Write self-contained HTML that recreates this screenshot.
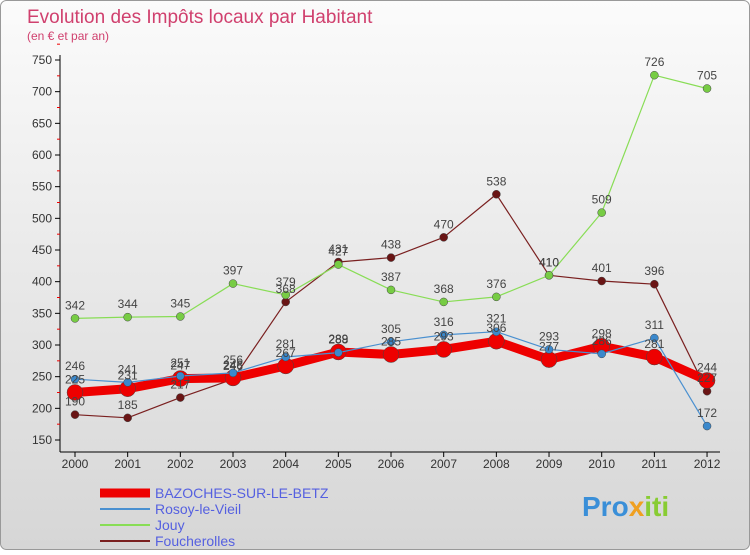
<!DOCTYPE html>
<html><head><meta charset="utf-8"><style>
body{margin:0;width:750px;height:550px;overflow:hidden;font-family:"Liberation Sans",sans-serif}
</style></head><body>
<svg width="750" height="550">
<defs><linearGradient id="bg" x1="0" y1="0" x2="0" y2="1"><stop offset="0" stop-color="#fbfbfb"/><stop offset="1" stop-color="#d6d6d6"/></linearGradient></defs>
<rect x="0.5" y="0.5" width="749" height="549" rx="6" fill="url(#bg)" stroke="#999"/>
<text x="27" y="23" font-size="19" fill="#d0406e">Evolution des Impôts locaux par Habitant</text>
<text x="27" y="40" font-size="12" fill="#d0406e">(en € et par an)</text>
<g id="axes"></g><g id="series"></g><g id="labels"></g>
<g font-size="14" fill="#5560e0">
<line x1="100" y1="493" x2="150" y2="493" stroke="#e00" stroke-width="9"/>
<text x="155" y="498">BAZOCHES-SUR-LE-BETZ</text>
<line x1="100" y1="509" x2="150" y2="509" stroke="#4a90d0" stroke-width="2"/>
<text x="155" y="514">Rosoy-le-Vieil</text>
<line x1="100" y1="525" x2="150" y2="525" stroke="#88dd55" stroke-width="2"/>
<text x="155" y="530">Jouy</text>
<line x1="100" y1="541" x2="150" y2="541" stroke="#7a2020" stroke-width="2"/>
<text x="155" y="546">Foucherolles</text>
</g>
<text x="582" y="516" font-size="28" font-weight="bold" fill="#3a8fd8">Pro<tspan fill="#f0a020">x</tspan><tspan fill="#88cc33">iti</tspan></text>
</svg>
<script>
const years=["2000","2001","2002","2003","2004","2005","2006","2007","2008","2009","2010","2011","2012"];
const yTicks=[150,200,250,300,350,400,450,500,550,600,650,700,750];
const bazoches=[225,231,247,248,267,289,285,293,306,277,298,281,244];
const rosoy=[246,241,251,256,281,288,305,316,321,293,286,311,172];
const jouy=[342,344,345,397,379,427,387,368,376,410,509,726,705];
const foucherolles=[190,185,217,246,368,431,438,470,538,410,401,396,227];
const NS="http://www.w3.org/2000/svg";
const X=i=>75+i*52.67, Y=v=>440-(v-150)*380/600;
function mk(t,a,p){const e=document.createElementNS(NS,t);for(const k in a)e.setAttribute(k,a[k]);p.appendChild(e);return e;}
const ax=document.getElementById('axes');
let l=mk('line',{x1:60,y1:55,x2:60,y2:452,stroke:'#000'},ax);


l=mk('line',{x1:60,y1:452,x2:720,y2:452,stroke:'#000'},ax);


yTicks.forEach(v=>{mk('line',{x1:55,y1:Y(v),x2:60,y2:Y(v),stroke:'#000'},ax);
mk('line',{x1:57,y1:Y(v+25),x2:60,y2:Y(v+25),stroke:'#e00'},ax);
const t=mk('text',{x:52,y:Y(v)+4,'font-size':12,fill:'#333','text-anchor':'end'},ax);t.textContent=v;

});
years.forEach((y,i)=>{mk('line',{x1:X(i),y1:452,x2:X(i),y2:457,stroke:'#000'},ax);
const t=mk('text',{x:X(i),y:468,'font-size':12,fill:'#333','text-anchor':'middle'},ax);t.textContent=y;

});
const se=document.getElementById('series'),lb=document.getElementById('labels');
function draw(d,name,col,w,r,dot){
const p=mk('polyline',{points:d.map((v,i)=>X(i)+','+Y(v)).join(' '),fill:'none',stroke:col,'stroke-width':w,'stroke-linejoin':'round'},se);


d.forEach((v,i)=>{const c=mk('circle',{cx:X(i),cy:Y(v),r:r,fill:dot,stroke:'#444','stroke-width':0.5},se);


const t=mk('text',{x:X(i),y:Y(v)-9,'font-size':12,fill:'#444','text-anchor':'middle'},lb);t.textContent=v;

});}
draw(foucherolles,'foucherolles','#7a2020',1.2,4,'#6a1515');
draw(jouy,'jouy','#88dd55',1.2,4,'#77cc44');
draw(bazoches,'bazoches','#ee0000',9,8,'#ee0000');
draw(rosoy,'rosoy','#4a90d0',1.2,4,'#3a88cc');
</script>
</body></html>
